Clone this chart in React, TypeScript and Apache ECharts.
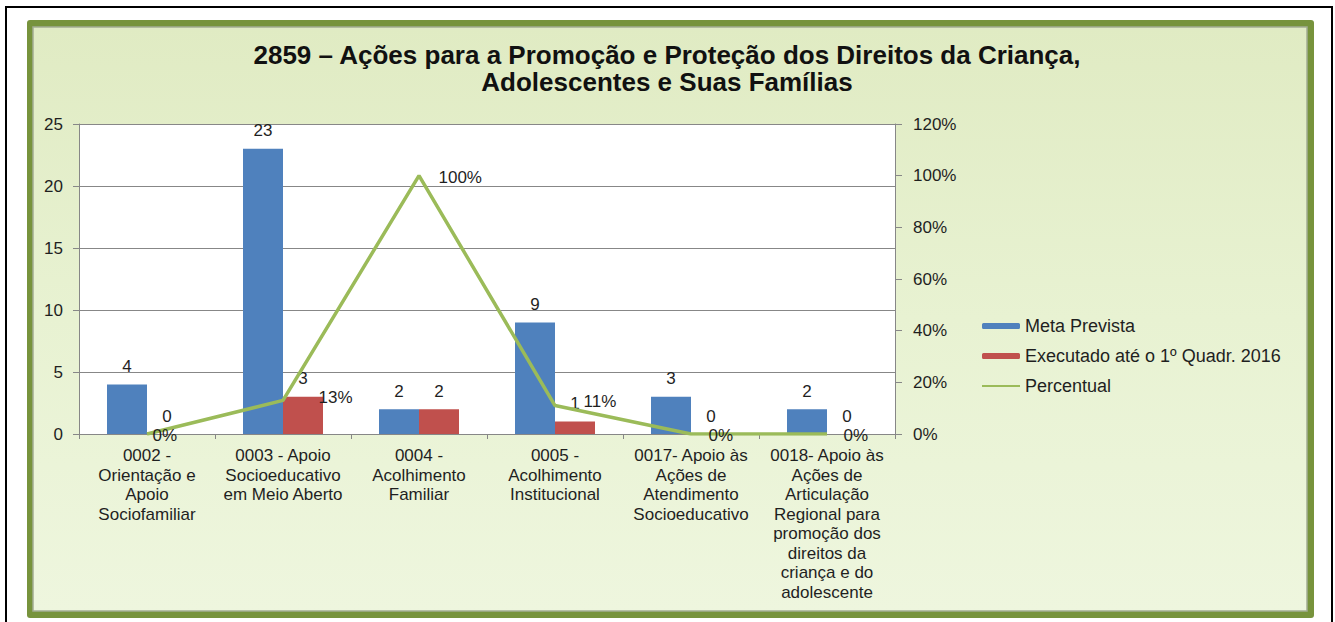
import React, { useEffect, useRef } from "react";
import * as echarts from "echarts";

const titleLines = [
  "2859 – Ações para a Promoção e Proteção dos Direitos da Criança,",
  "Adolescentes e Suas Famílias",
];

const categories = [
  "0002 -\nOrientação e\nApoio\nSociofamiliar",
  "0003 - Apoio\nSocioeducativo\nem Meio Aberto",
  "0004 -\nAcolhimento\nFamiliar",
  "0005 -\nAcolhimento\nInstitucional",
  "0017- Apoio às\nAções de\nAtendimento\nSocioeducativo",
  "0018- Apoio às\nAções de\nArticulação\nRegional para\npromoção dos\ndireitos da\ncriança e do\nadolescente",
];

const seriesNames = ["Meta Prevista", "Executado até o 1º Quadr. 2016", "Percentual"];
const metaPrevista = [4, 23, 2, 9, 3, 2];
const executado = [0, 3, 2, 1, 0, 0];
const percentual = [0, 13, 100, 11, 0, 0];

const leftAxis = { min: 0, max: 25, interval: 5 };
const rightAxis = { min: 0, max: 120, interval: 20 };

// per-point label nudges for the percentage labels (as placed in the original)
const pctLabelOffsets = [
  [0, 1],
  [30, -3],
  [14, 2],
  [23, -4],
  [12, 1],
  [11, 1],
];

const FONT = "'Liberation Sans', Arial, sans-serif";
const TXT = "#1f1f1f";
const GRID_GREY = "#878787";

export default function App() {
  const ref = useRef<HTMLDivElement>(null);
  useEffect(() => {
    if (!ref.current) return;
    const chart = echarts.init(ref.current, undefined, { renderer: "svg" });
    const barLabel = {
      show: true,
      position: "top",
      distance: 10,
      fontFamily: FONT,
      fontSize: 17,
      lineHeight: 16,
      color: TXT,
    };
    const option: any = {
      animation: false,
      textStyle: { fontFamily: FONT },
      graphic: [
        {
          type: "rect",
          z: -100,
          silent: true,
          shape: { x: 6, y: 7, width: 1326, height: 625 },
          style: { fill: "#ffffff", stroke: "#000000", lineWidth: 2 },
        },
        {
          type: "rect",
          z: -99,
          silent: true,
          shape: { x: 27, y: 20, width: 1287, height: 598, r: 3 },
          style: { fill: "#77933c" },
        },
        {
          type: "rect",
          z: -98,
          silent: true,
          shape: { x: 33, y: 27, width: 1274, height: 584 },
          style: {
            fill: new echarts.graphic.LinearGradient(0, 0, 0, 1, [
              { offset: 0, color: "#e0ebc3" },
              { offset: 0.5, color: "#e8f2d2" },
              { offset: 1, color: "#eef6de" },
            ]),
            stroke: "#a3ad93",
            lineWidth: 1.5,
          },
        },
        ...titleLines.map((t, i) => ({
          type: "text",
          z: 10,
          silent: true,
          x: 667,
          y: 55 + i * 27,
          style: {
            text: t,
            textAlign: "center",
            textVerticalAlign: "middle",
            fontFamily: FONT,
            fontWeight: "bold",
            fontSize: 26,
            fill: "#111111",
          },
        })),
      ],
      legend: {
        orient: "vertical",
        left: 981,
        top: 317,
        padding: 0,
        itemWidth: 38,
        itemHeight: 6,
        itemGap: 12,
        textStyle: { fontFamily: FONT, fontSize: 18, color: TXT },
        data: seriesNames,
      },
      grid: {
        left: 79,
        right: 440,
        top: 124,
        bottom: 188,
        show: true,
        backgroundColor: "#ffffff",
        borderWidth: 0,
      },
      xAxis: {
        type: "category",
        data: categories,
        axisLine: { lineStyle: { color: GRID_GREY, width: 1 } },
        axisTick: { show: true, length: 5, lineStyle: { color: GRID_GREY } },
        axisLabel: {
          interval: 0,
          margin: 12,
          fontFamily: FONT,
          fontSize: 17,
          lineHeight: 19.5,
          color: TXT,
          align: "center",
        },
      },
      yAxis: [
        {
          type: "value",
          ...leftAxis,
          axisLine: { show: true, lineStyle: { color: GRID_GREY } },
          axisTick: { show: true, length: 6, lineStyle: { color: GRID_GREY } },
          axisLabel: { margin: 16, fontFamily: FONT, fontSize: 17, color: TXT },
          splitLine: { show: true, lineStyle: { color: GRID_GREY, width: 1 } },
        },
        {
          type: "value",
          ...rightAxis,
          axisLine: { show: true, lineStyle: { color: GRID_GREY } },
          axisTick: { show: true, length: 7, lineStyle: { color: GRID_GREY } },
          axisLabel: {
            margin: 18,
            fontFamily: FONT,
            fontSize: 17,
            color: TXT,
            formatter: "{value}%",
          },
          splitLine: { show: false },
        },
      ],
      series: [
        {
          name: seriesNames[0],
          type: "bar",
          data: metaPrevista,
          barWidth: 40,
          barGap: "0%",
          itemStyle: { color: "#4f81bd" },
          label: barLabel,
        },
        {
          name: seriesNames[1],
          type: "bar",
          data: executado,
          barWidth: 40,
          barGap: "0%",
          itemStyle: { color: "#c0504d" },
          label: barLabel,
        },
        {
          name: seriesNames[2],
          type: "line",
          yAxisIndex: 1,
          symbol: "circle",
          symbolSize: 1,
          showSymbol: true,
          z: 5,
          lineStyle: { color: "#9bbb59", width: 3.5 },
          itemStyle: { color: "rgba(0,0,0,0)" },
          data: percentual.map((v, i) => ({
            value: v,
            label: { offset: pctLabelOffsets[i] },
          })),
          label: {
            show: true,
            position: "right",
            distance: 5,
            fontFamily: FONT,
            fontSize: 17,
            lineHeight: 16,
            color: TXT,
            formatter: "{c}%",
          },
        },
      ],
    };
    chart.setOption(option);
    return () => chart.dispose();
  }, []);
  return (
    <div
      ref={ref}
      style={{ position: "absolute", left: 0, top: 0, width: 1335, height: 622 }}
    />
  );
}
